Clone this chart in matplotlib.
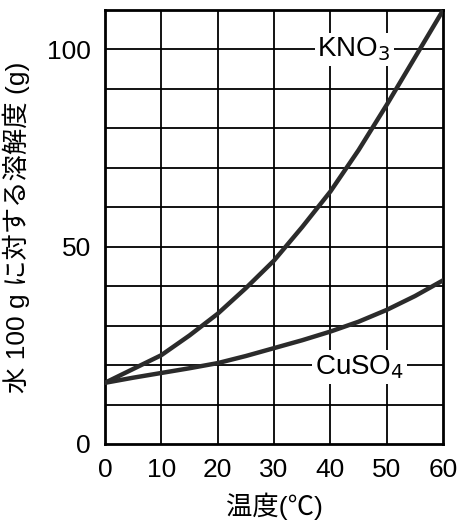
import matplotlib
matplotlib.use("Agg")
import matplotlib.pyplot as plt
import numpy as np

# temperature (deg C) and solubility (g per 100 g water)
temps = [0, 5, 10, 15, 20, 25, 30, 35, 40, 45, 50, 55, 60]
kno3 = [15.5, 19, 22.5, 27.5, 33, 39.5, 46.5, 55, 64, 74.5, 86, 98, 110]
cuso4 = [15.5, 16.8, 18, 19.2, 20.5, 22.3, 24.3, 26.3, 28.5, 31, 34, 37.5, 41.5]

x_ticks = [0, 10, 20, 30, 40, 50, 60]
y_ticks = [0, 50, 100]

plt.rcParams['font.family'] = ['Liberation Sans', 'Noto Sans CJK JP', 'DejaVu Sans']

fig = plt.figure(figsize=(4.68, 5.27), dpi=100)
ax = fig.add_axes([0.224, 0.1575, 0.723, 0.8235])

# grid every 10 units
for gx in np.arange(10, 60, 10):
    ax.axvline(gx, color="black", lw=1.3, zorder=1)
for gy in np.arange(10, 110, 10):
    ax.axhline(gy, color="black", lw=1.3, zorder=1)

ax.plot(temps, kno3, color="#2b2b2b", lw=3.2, solid_joinstyle="round",
        solid_capstyle="round", zorder=3)
ax.plot(temps, cuso4, color="#2b2b2b", lw=3.2, solid_joinstyle="round",
        solid_capstyle="round", zorder=3)

ax.text(44.2, 100, "KNO$_3$", fontsize=20, ha="center", va="center",
        bbox=dict(facecolor="white", edgecolor="none", pad=2), zorder=4)
ax.text(45.2, 19.5, "CuSO$_4$", fontsize=20, ha="center", va="center",
        bbox=dict(facecolor="white", edgecolor="none", pad=2), zorder=4)

ax.set_xlim(0, 60)
ax.set_ylim(0, 110)
ax.set_xticks(x_ticks)
ax.set_yticks(y_ticks)
ax.tick_params(length=0, labelsize=19, pad=10)
for s in ax.spines.values():
    s.set_linewidth(2)

ax.set_xlabel("温度(℃)", fontsize=19, labelpad=8)
ax.set_ylabel("水 100 g に対する溶解度 (g)", fontsize=19, labelpad=12)

fig.savefig("out.png", dpi=100)
plt.close(fig)
